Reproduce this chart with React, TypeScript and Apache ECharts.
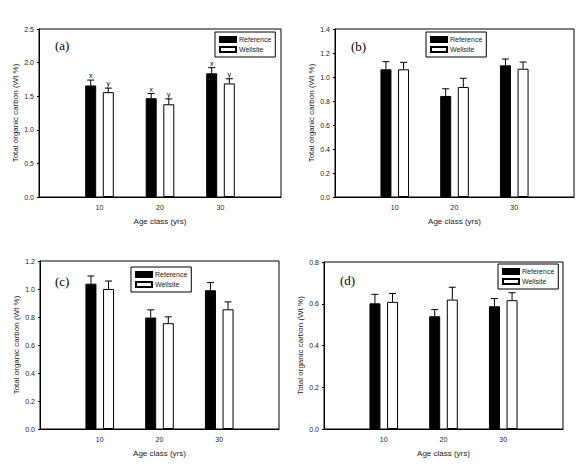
import { useEffect, useRef } from 'react'
import * as echarts from 'echarts'

// age classes (yrs) on the x axis
const ageClasses = [10, 20, 30]

// (a)
const refA = [1.66, 1.47, 1.84]
const refErrA = [0.08, 0.07, 0.085]
const wellA = [1.56, 1.38, 1.69]
const wellErrA = [0.06, 0.08, 0.07]
const refLettersA = ['x', 'x', 'x']
const wellLettersA = ['y', 'y', 'y']

// (b)
const refB = [1.064, 0.842, 1.097]
const refErrB = [0.064, 0.06, 0.053]
const wellB = [1.064, 0.917, 1.069]
const wellErrB = [0.058, 0.072, 0.056]

// (c)
const refC = [1.038, 0.796, 0.991]
const refErrC = [0.055, 0.055, 0.055]
const wellC = [1.0, 0.756, 0.855]
const wellErrC = [0.057, 0.045, 0.053]

// (d)
const refD = [0.602, 0.54, 0.588]
const refErrD = [0.043, 0.032, 0.037]
const wellD = [0.609, 0.62, 0.617]
const wellErrD = [0.04, 0.059, 0.036]

const panelLabels = ['(a)', '(b)', '(c)', '(d)']
const yMax = [2.5, 1.4, 1.2, 0.8]
const yStep = [0.5, 0.2, 0.2, 0.2]

const SANS = '"Liberation Sans", Arial, sans-serif'
const SERIF = '"Liberation Serif", "Times New Roman", serif'
const BAR_W = 11
const OFFSET = 8.8

const panels = [
  { ref: refA, refErr: refErrA, well: wellA, wellErr: wellErrA, refLetters: refLettersA, wellLetters: wellLettersA },
  { ref: refB, refErr: refErrB, well: wellB, wellErr: wellErrB },
  { ref: refC, refErr: refErrC, well: wellC, wellErr: wellErrC },
  { ref: refD, refErr: refErrD, well: wellD, wellErr: wellErrD },
] as Array<{
  ref: number[]
  refErr: number[]
  well: number[]
  wellErr: number[]
  refLetters?: string[]
  wellLetters?: string[]
}>

const grids = [
  { left: 39, top: 29, width: 242, height: 168 },
  { left: 335, top: 29, width: 239, height: 168 },
  { left: 40, top: 261, width: 239, height: 168 },
  { left: 324, top: 262, width: 239, height: 167 },
]
const legendPos = [
  { left: 215, top: 32 },
  { left: 426, top: 32 },
  { left: 131, top: 267 },
  { left: 498, top: 264 },
]
const labelPos = [
  { x: 55, y: 39 },
  { x: 351, y: 40 },
  { x: 55, y: 275 },
  { x: 340, y: 274 },
]

function errorSeries(gi: number, values: number[], errs: number[], offset: number, letters?: string[]) {
  return {
    type: 'custom',
    xAxisIndex: gi,
    yAxisIndex: gi,
    silent: true,
    z: 5,
    data: ageClasses.map((a, i) => [a, values[i], errs[i]]),
    renderItem: (params: any, api: any) => {
      const x = api.value(0)
      const y = api.value(1)
      const e = api.value(2)
      const base = api.coord([x, y])
      const top = api.coord([x, y + e])
      const cx = base[0] + offset
      const style = { stroke: '#000', lineWidth: 1 }
      const children: any[] = [
        { type: 'line', shape: { x1: cx, y1: base[1], x2: cx, y2: top[1] }, style },
        { type: 'line', shape: { x1: cx - 3.5, y1: top[1], x2: cx + 3.5, y2: top[1] }, style },
      ]
      const letter = letters ? letters[params.dataIndex] : ''
      if (letter) {
        children.push({
          type: 'text',
          style: {
            text: letter,
            x: cx,
            y: top[1] - 1,
            align: 'center',
            verticalAlign: 'bottom',
            fontSize: 7,
            fontFamily: SANS,
            fill: '#000',
          },
        })
      }
      return { type: 'group', children }
    },
  }
}

export default function App() {
  const chartRef = useRef<HTMLDivElement>(null)

  useEffect(() => {
    document.body.style.margin = '0'
    if (!chartRef.current) return
    const chart = echarts.init(chartRef.current, null, { renderer: 'svg' })

    const series: any[] = []
    panels.forEach((p, gi) => {
      series.push({
        name: 'Reference',
        type: 'bar',
        xAxisIndex: gi,
        yAxisIndex: gi,
        barWidth: BAR_W,
        barGap: '60%',
        data: ageClasses.map((a, i) => [a, p.ref[i]]),
        itemStyle: { color: '#000', borderColor: '#000', borderWidth: 1 },
      })
      series.push({
        name: 'Wellsite',
        type: 'bar',
        xAxisIndex: gi,
        yAxisIndex: gi,
        barWidth: BAR_W,
        barGap: '60%',
        data: ageClasses.map((a, i) => [a, p.well[i]]),
        itemStyle: { color: '#fff', borderColor: '#000', borderWidth: 1 },
      })
      series.push(errorSeries(gi, p.ref, p.refErr, -OFFSET, p.refLetters))
      series.push(errorSeries(gi, p.well, p.wellErr, OFFSET, p.wellLetters))
    })

    const option: echarts.EChartsOption = {
      animation: false,
      backgroundColor: '#fff',
      textStyle: { fontFamily: SANS },
      grid: grids.map((g) => ({ ...g, show: true, borderColor: '#000', borderWidth: 1, backgroundColor: 'transparent' })),
      xAxis: grids.map((_, gi) => ({
        type: 'value',
        gridIndex: gi,
        min: 0,
        max: 40,
        interval: 10,
        name: 'Age class (yrs)',
        nameLocation: 'middle',
        nameGap: 20,
        nameTextStyle: { fontSize: 8, color: '#222', fontFamily: SANS },
        axisLine: { show: true, lineStyle: { color: '#000', width: 1 } },
        axisTick: { show: false },
        splitLine: { show: false },
        axisLabel: {
          fontSize: 7,
          color: '#222',
          margin: 7,
          fontFamily: SANS,
          formatter: (v: number) => (ageClasses.includes(v) ? String(v) : ''),
        },
      })),
      yAxis: grids.map((_, gi) => ({
        type: 'value',
        gridIndex: gi,
        min: 0,
        max: yMax[gi],
        interval: yStep[gi],
        name: 'Total organic carbon (Wt %)',
        nameLocation: 'middle',
        nameGap: 20,
        nameTextStyle: { fontSize: 8, color: '#222', fontFamily: SANS },
        axisLine: { show: true, lineStyle: { color: '#000', width: 1 } },
        axisTick: { show: true, length: 2, lineStyle: { color: '#000' } },
        splitLine: { show: false },
        axisLabel: {
          fontSize: 7,
          color: '#222',
          margin: 5,
          fontFamily: SANS,
          formatter: (v: number) => v.toFixed(1),
        },
      })),
      legend: legendPos.map((lp) => ({
        ...lp,
        orient: 'vertical',
        data: ['Reference', 'Wellsite'],
        icon: 'rect',
        itemWidth: 16,
        itemHeight: 5,
        itemGap: 3,
        padding: [4, 4, 4, 4],
        borderColor: '#000',
        borderWidth: 1,
        backgroundColor: '#fff',
        selectedMode: false,
        textStyle: { fontSize: 7, color: '#222', fontFamily: SANS, padding: [0, 0, 0, -2] },
      })),
      graphic: panelLabels.map((t, i) => ({
        type: 'text',
        x: labelPos[i].x,
        y: labelPos[i].y,
        style: { text: t, fontSize: 13, fontFamily: SERIF, fill: '#000' },
      })),
      series,
    }

    chart.setOption(option)
    return () => chart.dispose()
  }, [])

  return <div ref={chartRef} style={{ width: 578, height: 468 }} />
}
